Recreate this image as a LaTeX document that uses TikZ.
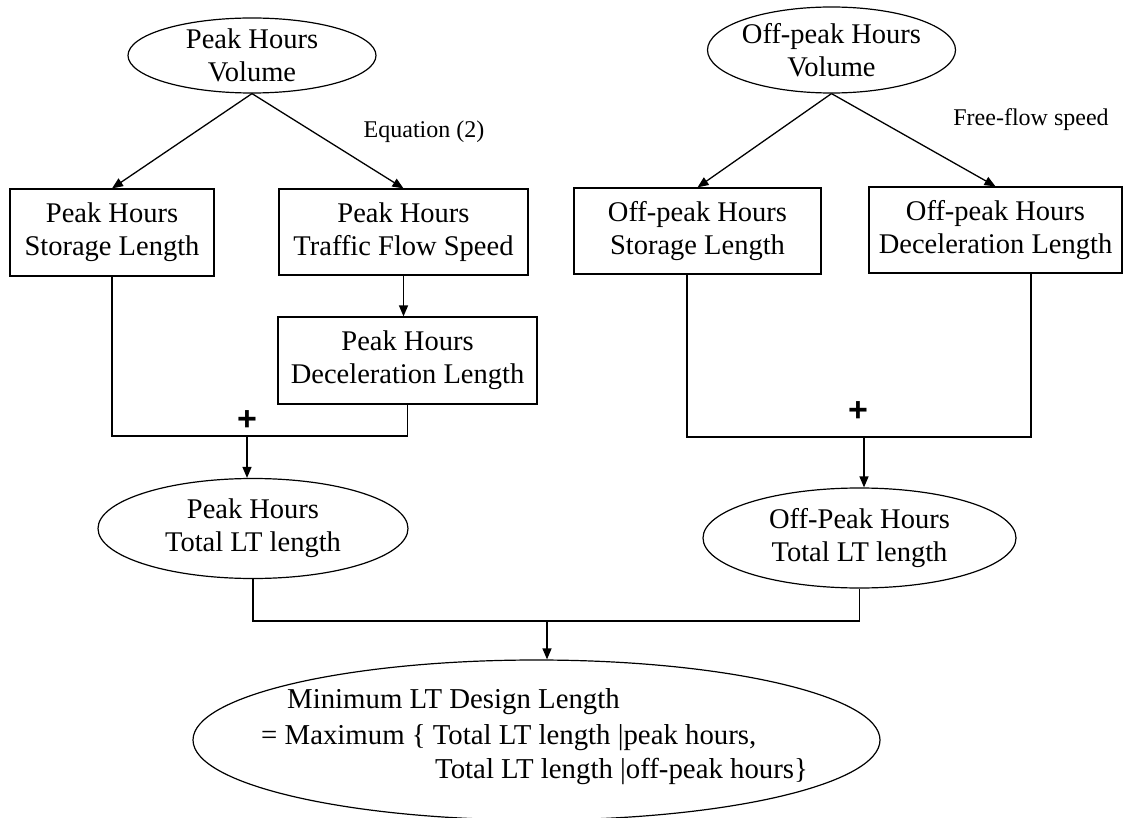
\documentclass[tikz,border=0pt]{standalone}
\usepackage{fontspec}
\setmainfont{Liberation Serif}
\newfontfamily\plusfont{Liberation Sans}
\usetikzlibrary{shapes.geometric,arrows.meta}
\begin{document}
\begin{tikzpicture}[x=1pt,y=-1pt,
  every node/.style={font=\fontsize{28.5}{33}\selectfont, align=center},
  box/.style={draw, line width=1.2pt, inner sep=2pt},
  oval/.style={draw, ellipse, line width=1.2pt, inner sep=0pt},
  txt/.style={inner sep=0pt},
  fintxt/.style={inner sep=0pt, font=\fontsize{28.8}{35}\selectfont},
  lbl/.style={font=\fontsize{24}{28}\selectfont, inner sep=0pt},
  plussign/.style={font=\plusfont\bfseries\fontsize{34}{34}\selectfont, inner sep=0pt},
  arr/.style={line width=1.3pt, -{Triangle[length=11pt,width=9pt]}},
  ln/.style={line width=1.2pt}]
\useasboundingbox (0,0) rectangle (1124,818);

% ---- Peak side
\node[oval, minimum width=248, minimum height=75] (pv) at (252,55.5) {};
\node[txt] (pvt) at (pv.center) {Peak Hours\\Volume};
\node[box, minimum width=204, minimum height=87] (ps) at (112,232.5) {Peak Hours\\Storage Length};
\node[box, minimum width=249, minimum height=86] (pt) at (403.5,232) {Peak Hours\\Traffic Flow Speed};
\node[box, minimum width=259, minimum height=87] (pd) at (407.5,360.5) {Peak Hours\\Deceleration Length};
\node[oval, minimum width=310, minimum height=100] (ptot) at (253,528.5) {};
\node[txt] (ptott) at (ptot.center) {Peak Hours\\Total LT length};
\node[lbl] (eq) at (424,132) {Equation (2)};
\node[plussign] (pplus) at (247,421) {+};
\coordinate (pj) at (247,436);

\draw[arr] (pv.south) -- (ps.north);
\draw[arr] (pv.south) -- (pt.north);
\draw[arr] (pt.south) -- (pt.south |- pd.north);
\draw[ln] (ps.south) |- (pj) -| (pd.south);
\draw[arr] (pj) -- (pj |- ptot.north);

% ---- Off-peak side
\node[oval, minimum width=248, minimum height=86] (ov) at (831.5,50) {};
\node[txt] (ovt) at (ov.center) {Off-peak Hours\\Volume};
\node[box, minimum width=247, minimum height=86] (os) at (697.5,231) {Off-peak Hours\\Storage Length};
\node[box, minimum width=253, minimum height=86] (od) at (995.5,230) {Off-peak Hours\\Deceleration Length};
\node[oval, minimum width=313, minimum height=100] (otot) at (859.5,538) {};
\node[txt] (otott) at (otot.center) {Off-Peak Hours\\Total LT length};
\node[lbl] (ffs) at (1031,120) {Free-flow speed};
\node[plussign] (oplus) at (858,412) {+};
\coordinate (oj) at (864,437);

\draw[arr] (ov.south) -- (os.north);
\draw[arr] (ov.south) -- (od.north);
\draw[ln] ([xshift=-10.5pt]os.south) |- (oj) -| ([xshift=35.5pt]od.south);
\draw[arr] (oj) -- (oj |- otot.north);

% ---- Final
\node[oval, minimum width=687, minimum height=160] (fin) at (536.5,740) {};
\node[fintxt, anchor=base west] (fin1) at (287,708) {Minimum LT Design Length};
\node[fintxt, anchor=base west] (fin2) at (261,744) {= Maximum \{ Total LT length |peak hours,};
\node[fintxt, anchor=base west] (fin3) at (435,778) {Total LT length |off-peak hours\}};
\coordinate (bj) at (547,621);
\draw[ln] (ptot.south) |- (bj) -| (otot.south);
\draw[arr] (bj) -- (bj |- fin.north);
\end{tikzpicture}
\end{document}
